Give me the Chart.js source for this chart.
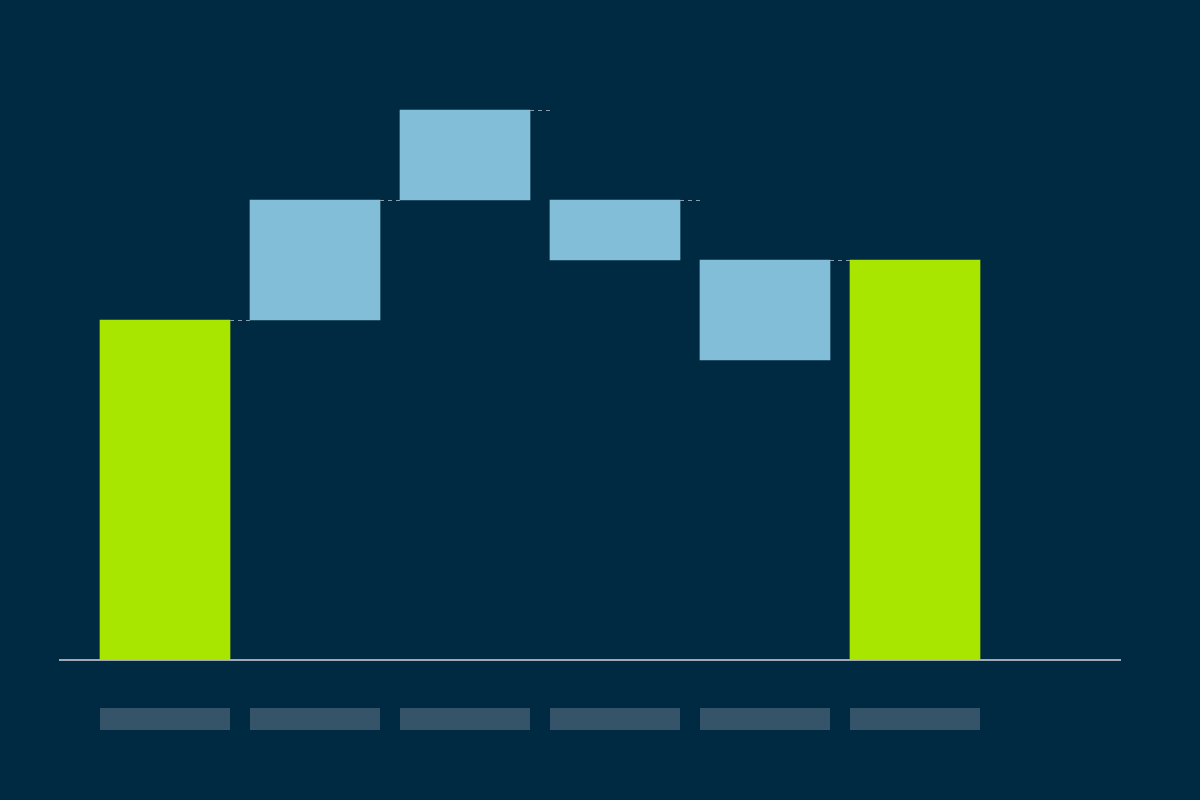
<!DOCTYPE html>
<html>
<head>
<meta charset="utf-8">
<script src="https://cdn.jsdelivr.net/npm/chart.js@4"></script>
<style>
  html, body { margin: 0; padding: 0; background: #002942; }
  #wrap { width: 1200px; height: 800px; position: relative; }
</style>
</head>
<body>
<div id="wrap"><canvas id="chart-waterfall"></canvas></div>
<script>
// ─── DATA ─────────────────────────────────────────
const steps = [0, 1, 2, 3, 4, 5];
const lows  = [0, 34, 46, 40, 30, 0];
const highs = [34, 46, 55, 46, 40, 40];
const kinds = ['total', 'delta', 'delta', 'delta', 'delta', 'total'];

const COLORS = { total: '#a8e600', delta: '#82bed8' };

// connectors between bars + placeholder label boxes + baseline
const waterfallDecor = {
  id: 'waterfallDecor',
  beforeDatasetsDraw(chart) {
    const { ctx, chartArea, scales: { y } } = chart;
    ctx.save();
    ctx.strokeStyle = '#a0aab4';
    ctx.lineWidth = 2;
    ctx.beginPath();
    ctx.moveTo(chartArea.left - 1, y.getPixelForValue(0));
    ctx.lineTo(chartArea.right + 1, y.getPixelForValue(0));
    ctx.stroke();
    ctx.restore();
  },
  afterDatasetsDraw(chart) {
    const { ctx, scales: { y } } = chart;
    const meta = chart.getDatasetMeta(0);
    ctx.save();
    // dashed connectors
    ctx.strokeStyle = '#8b9cab';
    ctx.lineWidth = 1;
    ctx.setLineDash([4, 4]);
    for (let i = 0; i < meta.data.length - 1; i++) {
      const a = meta.data[i], b = meta.data[i + 1];
      const py = Math.round(y.getPixelForValue(highs[i])) + 0.5;
      ctx.beginPath();
      ctx.moveTo(a.x + a.width / 2, py);
      ctx.lineTo(b.x - b.width / 2, py);
      ctx.stroke();
    }
    ctx.setLineDash([]);
    // label placeholders
    ctx.fillStyle = '#365469';
    const base = y.getPixelForValue(0);
    meta.data.forEach(bar => {
      ctx.fillRect(bar.x - bar.width / 2, base + 48, bar.width, 22);
    });
    ctx.restore();
  }
};

const canvas = document.getElementById('chart-waterfall');
new Chart(canvas, {
  type: 'bar',
  data: {
    datasets: [{
      data: steps.map((s, i) => ({ x: s, y: [lows[i], highs[i]] })),
      backgroundColor: kinds.map(k => COLORS[k]),
      borderWidth: 0,
      borderSkipped: false,
      barThickness: 130
    }]
  },
  options: {
    responsive: true,
    maintainAspectRatio: false,
    animation: false,
    layout: { padding: { left: 60, right: 80, top: 60, bottom: 140 } },
    plugins: { legend: { display: false }, tooltip: { enabled: false } },
    scales: {
      x: { type: 'linear', min: -0.7, max: 6.3667, offset: false, display: false },
      y: { min: 0, max: 60, display: false }
    }
  },
  plugins: [waterfallDecor]
});
</script>
</body>
</html>
